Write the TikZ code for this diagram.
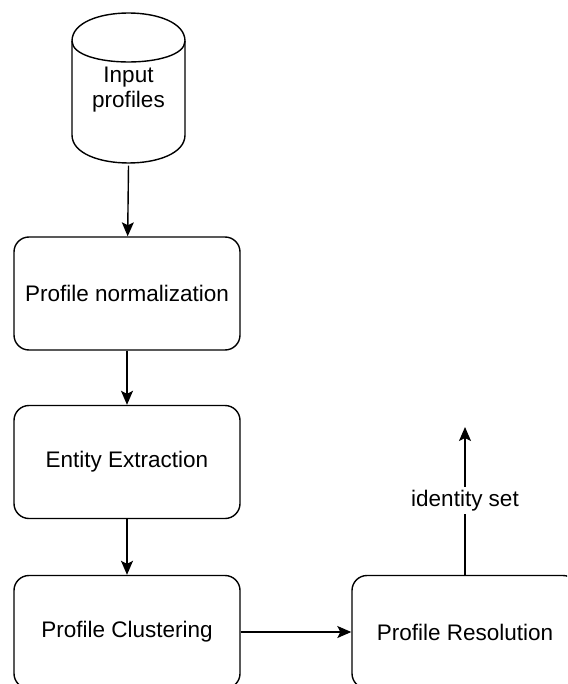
\documentclass[tikz,border=0pt]{standalone}
\usepackage{fontspec}
\setmainfont{Liberation Sans}
\usetikzlibrary{arrows.meta}
\begin{document}
\begin{tikzpicture}[x=1pt,y=-1pt,line width=1.4pt,
  lbl/.style={font=\fontsize{22.5}{25}\selectfont,text=black},
  procbox/.style={lbl,draw,rounded corners=15pt,minimum width=226pt,minimum height=113pt,inner sep=0pt},
  flow/.style={-{Stealth[length=14pt,width=12pt,inset=3pt]}}]
\fill[white] (0,0) rectangle (567,684);
\clip (0,0) rectangle (567,684);
% cylinder
\draw[fill=white] (72,41) .. controls (72,3.67) and (185,3.67) .. (185,41) -- (185,135)
  .. controls (185,172.33) and (72,172.33) .. (72,135) -- cycle;
\draw (72,41) .. controls (72,69) and (185,69) .. (185,41);
\node[lbl,minimum width=113pt,minimum height=150pt,inner sep=0pt,align=center] (inp) at (128.5,90) {Input\\profiles};
% boxes
\node[procbox] (norm) at (127,293.5) {Profile normalization};
\node[procbox] (ext) at (127,462) {Entity Extraction};
\node[procbox] (clus) at (127,632) {Profile Clustering};
\node[procbox] (res) at (465,632) {Profile Resolution};
\coordinate (idout) at (465,427);
% connectors
\draw[flow] (inp.south) -- (norm);
\draw[flow] (norm) -- (ext);
\draw[flow] (ext) -- (clus);
\draw[flow] (clus) -- (res);
\draw[flow] (res) -- node[lbl,fill=white,inner sep=3pt,pos=0.5] {identity set} (idout);
\end{tikzpicture}
\end{document}
